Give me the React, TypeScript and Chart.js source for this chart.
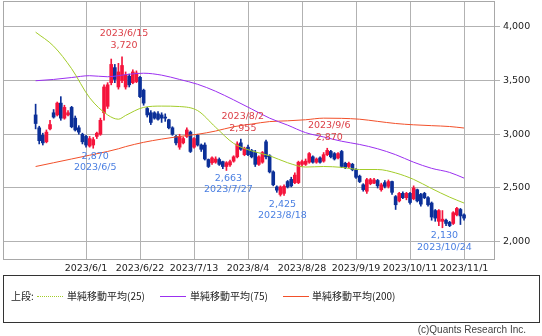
import React, { useEffect, useRef } from "react";
import { Chart, registerables } from "chart.js";
Chart.register(...registerables);

// ---- data (day index 0 = 2023/5/12 ... 119 = 2023/11/1) ----
const openP = [3180,3060,2990,2930,3050,3200,3180,3290,3150,3180,3250,3150,3060,3000,2980,2890,2900,2980,3000,3200,
3260,3480,3620,3440,3500,3440,3540,3480,3490,3530,3410,3240,3200,3200,3190,3180,3160,3135,3060,2980,
2880,2920,2980,3020,2880,2990,2900,2900,2765,2735,2740,2765,2745,2700,2715,2750,2790,2920,2810,2880,
2850,2830,2720,2740,2930,2800,2650,2510,2440,2450,2560,2580,2550,2550,2720,2720,2740,2790,2740,2780,
2750,2810,2840,2820,2780,2840,2730,2700,2720,2670,2610,2530,2470,2540,2545,2570,2484,2550,2515,2560,
2420,2380,2450,2410,2450,2400,2484,2440,2450,2410,2360,2290,2190,2190,2200,2180,2170,2250,2300,2250];
const highP = [3280,3075,3010,3040,3130,3230,3300,3350,3270,3220,3260,3170,3080,3010,2990,2980,2970,3020,3150,3460,
3480,3700,3650,3660,3720,3580,3560,3600,3590,3540,3420,3250,3220,3210,3210,3200,3190,3140,3070,2990,
3000,2975,3060,3030,2970,3000,2910,2920,2770,2790,2790,2780,2750,2745,2760,2800,2930,2955,2880,2900,
2860,2850,2800,2840,2945,2810,2660,2520,2520,2530,2570,2600,2640,2750,2760,2770,2830,2800,2780,2790,
2830,2870,2850,2830,2830,2850,2740,2740,2730,2680,2620,2540,2590,2590,2590,2580,2545,2570,2575,2565,
2430,2460,2465,2460,2460,2520,2490,2450,2460,2420,2370,2300,2300,2290,2210,2190,2280,2320,2310,2260];
const lowP = [3050,2910,2900,2920,3040,3150,3170,3130,3140,3170,3060,3030,3000,2910,2880,2880,2870,2960,2990,3130,
3240,3460,3480,3420,3480,3420,3440,3470,3480,3340,3270,3160,3090,3140,3130,3110,3120,3050,2990,2900,
2860,2910,2970,2830,2870,2890,2840,2760,2690,2720,2730,2710,2680,2663,2700,2740,2780,2850,2800,2800,
2780,2700,2710,2730,2770,2640,2520,2460,2425,2430,2500,2510,2540,2540,2700,2710,2730,2730,2730,2730,
2740,2800,2780,2760,2770,2690,2680,2690,2660,2590,2550,2470,2450,2530,2540,2500,2470,2500,2500,2440,
2300,2370,2400,2390,2350,2390,2370,2330,2400,2330,2200,2190,2150,2130,2150,2140,2160,2240,2160,2200];
const closeP = [3100,2940,2920,3020,3090,3160,3290,3150,3250,3200,3070,3040,3020,2930,2900,2960,2950,3010,3130,3440,
3460,3650,3510,3580,3640,3550,3460,3580,3570,3350,3290,3180,3110,3150,3140,3150,3150,3060,3000,2920,
2980,2960,3040,2840,2960,2900,2860,2770,2700,2780,2770,2720,2700,2735,2745,2790,2910,2860,2870,2810,
2790,2720,2790,2830,2790,2650,2530,2480,2510,2515,2510,2520,2620,2740,2745,2750,2820,2740,2770,2740,
2810,2850,2790,2770,2820,2700,2690,2730,2670,2600,2560,2485,2577,2577,2575,2520,2530,2515,2560,2460,
2344,2450,2410,2450,2365,2500,2380,2350,2410,2344,2230,2220,2290,2210,2170,2150,2270,2310,2240,2220];

const maDays = [0,5,10,15,20,23,25,30,35,40,45,50,55,60,65,70,75,80,85,90,95,100,105,110,115,119];
const ma25 = [3950,3820,3610,3340,3180,3140,3175,3250,3262,3258,3220,3065,2915,2845,2800,2735,2695,2700,2692,2672,2672,2640,2580,2495,2415,2360];
const ma75 = [3498,3510,3528,3545,3535,3545,3555,3568,3550,3510,3465,3400,3320,3235,3150,3085,3015,2975,2935,2905,2865,2810,2740,2683,2645,2592];
const ma200 = [2700,2735,2770,2805,2840,2865,2885,2925,2955,2980,3000,3030,3070,3095,3118,3125,3135,3150,3148,3140,3120,3100,3088,3080,3072,3058];

const tickDays = [14,29,44,59,74,89,104,119];
const tickLabels = ["2023/6/1","2023/6/22","2023/7/13","2023/8/4","2023/8/28","2023/9/19","2023/10/11","2023/11/1"];
const yTicks = [2000,2500,3000,3500,4000];

const annDays = [24,16,53,57,68,81,113];
const annDates = ["2023/6/15","2023/6/5","2023/7/27","2023/8/2","2023/8/18","2023/9/6","2023/10/24"];
const annValues = [3720,2870,2663,2955,2425,2870,2130];
const annKinds = ["high","low","low","high","low","high","low"];

const UP = "#f5143c";
const DOWN = "#0b2f98";
const C25 = "#a3cc2a";
const C75 = "#9b30f0";
const C200 = "#f2502a";
const GRID = "#b2b2b2";
const FONT = "DejaVu Sans, Verdana, sans-serif";

const framePlugin = {
  id: "frame",
  beforeDatasetsDraw(chart: any) {
    const { ctx, chartArea: a } = chart;
    ctx.save();
    ctx.strokeStyle = "#a8a8a8";
    ctx.lineWidth = 1;
    ctx.strokeRect(Math.round(a.left) + 0.5, Math.round(a.top) + 0.5, Math.round(a.right - a.left) - 1, Math.round(a.bottom - a.top) - 1);
    ctx.restore();
  },
};

const annPlugin = {
  id: "ann",
  afterDatasetsDraw(chart: any) {
    const { ctx } = chart;
    const xs = chart.scales.x;
    const ys = chart.scales.y;
    ctx.save();
    ctx.font = "9.5px " + FONT;
    ctx.textAlign = "center";
    ctx.textBaseline = "middle";
    annDays.forEach((d, k) => {
      const x = xs.getPixelForValue(d) + 2;
      const y = ys.getPixelForValue(annValues[k]);
      const val = annValues[k].toLocaleString("en-US");
      if (annKinds[k] === "high") {
        ctx.fillStyle = "#dc4048";
        ctx.fillText(annDates[k], x, y - 23);
        ctx.fillText(val, x, y - 11);
      } else {
        ctx.fillStyle = "#4a7fe2";
        ctx.fillText(val, x, y + 8);
        ctx.fillText(annDates[k], x, y + 19.5);
      }
    });
    ctx.restore();
  },
};

export default function App() {
  const ref = useRef<HTMLCanvasElement | null>(null);
  useEffect(() => {
    document.body.style.margin = "0";
    const days = closeP.map((_, i) => i);
    const colors = days.map((i) => (closeP[i] >= openP[i] ? UP : DOWN));
    const line = (vals: number[], color: string) => ({
      type: "line" as const,
      data: maDays.map((d, k) => ({ x: d, y: vals[k] })),
      borderColor: color,
      borderWidth: 1,
      pointRadius: 0,
      cubicInterpolationMode: "monotone" as const,
      order: 0,
    });
    const chart = new Chart(ref.current as HTMLCanvasElement, {
      type: "bar",
      data: {
        datasets: [
          line(ma25, C25),
          line(ma75, C75),
          line(ma200, C200),
          {
            type: "bar",
            data: days.map((i) => ({ x: i, y: [openP[i], closeP[i]] })) as any,
            backgroundColor: colors,
            barThickness: 3,
            grouped: false,
            borderWidth: 0,
            order: 1,
          },
          {
            type: "bar",
            data: days.map((i) => ({ x: i, y: [lowP[i], highP[i]] })) as any,
            backgroundColor: colors,
            barThickness: 1,
            grouped: false,
            borderWidth: 0,
            order: 2,
          },
        ] as any,
      },
      options: {
        responsive: false,
        animation: false,
        layout: { padding: { left: 3, top: 1, right: 0, bottom: 0 } },
        plugins: { legend: { display: false }, tooltip: { enabled: false } },
        scales: {
          x: {
            type: "linear",
            offset: false,
            min: -9.06,
            max: 127.6,
            afterBuildTicks: (s: any) => {
              s.ticks = tickDays.map((v) => ({ value: v }));
            },
            afterFit: (s: any) => {
              s.height = 20;
              s.paddingLeft = 0;
              s.paddingRight = 0;
            },
            ticks: {
              autoSkip: false,
              maxRotation: 0,
              padding: 3,
              color: "#222",
              font: { family: FONT, size: 9.5 },
              callback: (v: any) => {
                const k = tickDays.indexOf(Number(v));
                return k >= 0 ? tickLabels[k] : "";
              },
            },
            grid: { color: GRID, drawTicks: false, lineWidth: 1, offset: false },
            border: { display: false },
          },
          y: {
            type: "linear",
            position: "right",
            min: 1830,
            max: 4240,
            afterBuildTicks: (s: any) => {
              s.ticks = yTicks.map((v) => ({ value: v }));
            },
            afterFit: (s: any) => {
              s.width = 47;
              s.paddingTop = 0;
              s.paddingBottom = 0;
            },
            ticks: {
              padding: 3,
              color: "#222",
              font: { family: FONT, size: 9.5 },
              callback: (v: any) => Number(v).toLocaleString("en-US"),
            },
            grid: { color: GRID, tickLength: 5, lineWidth: 1 },
            border: { display: false },
          },
        },
      } as any,
      plugins: [framePlugin, annPlugin],
    });
    return () => chart.destroy();
  }, []);

  const txt: React.CSSProperties = {
    position: "absolute",
    top: 13,
    fontFamily: "'Noto Sans CJK JP', sans-serif",
    fontSize: 10,
    color: "#222",
    lineHeight: "14px",
    whiteSpace: "nowrap",
  };
  const seg = (left: number, color: string, dotted: boolean): React.CSSProperties => ({
    position: "absolute",
    left,
    top: 20,
    width: 26,
    height: 0,
    borderTop: `1px ${dotted ? "dotted" : "solid"} ${color}`,
  });

  return (
    <div style={{ position: "absolute", left: 0, top: 0, width: 542, height: 336, background: "#fff" }}>
      <canvas ref={ref} width={542} height={280} style={{ position: "absolute", left: 0, top: 0 }} />
      <div
        style={{
          position: "absolute",
          left: 3,
          top: 275,
          width: 537,
          height: 48,
          boxSizing: "border-box",
          border: "1px solid #333",
        }}
      >
        <div style={{ ...txt, left: 7 }}>上段:</div>
        <div style={seg(33, C25, true)} />
        <div style={{ ...txt, left: 63 }}>単純移動平均(25)</div>
        <div style={seg(156, C75, false)} />
        <div style={{ ...txt, left: 186 }}>単純移動平均(75)</div>
        <div style={seg(279, C200, false)} />
        <div style={{ ...txt, left: 308 }}>単純移動平均(200)</div>
      </div>
      <div
        style={{
          position: "absolute",
          right: 16,
          top: 324,
          fontFamily: "'Liberation Sans', Arial, sans-serif",
          fontSize: 10,
          color: "#444",
          lineHeight: "12px",
        }}
      >
        (c)Quants Research Inc.
      </div>
    </div>
  );
}
